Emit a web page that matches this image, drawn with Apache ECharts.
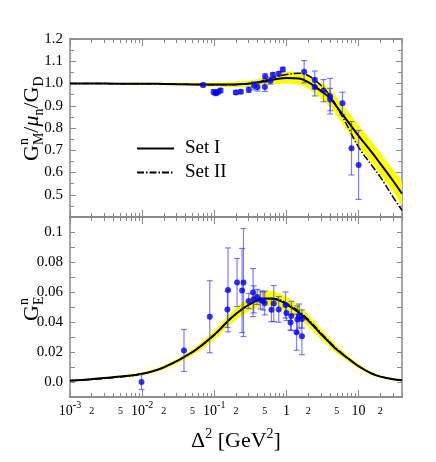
<!DOCTYPE html>
<html>
<head>
<meta charset="utf-8">
<script src="https://cdn.jsdelivr.net/npm/echarts@6/dist/echarts.min.js"></script>
<style>
html, body { margin: 0; padding: 0; background: #fff; }
#chart { width: 436px; height: 462px; }
</style>
</head>
<body>
<div id="chart"></div>
<script>
// curve sample points (Delta^2 in GeV^2)
const qCurve = [0.001, 0.002, 0.005, 0.01, 0.02, 0.05, 0.1, 0.15, 0.2, 0.3, 0.4, 0.5, 0.7, 1, 1.5, 2, 3, 4, 5, 7, 10, 15, 20, 30, 40]

// G_M^n / mu_n / G_D
const gmSet1 = [1.000, 1.000, 0.999, 0.999, 0.998, 0.996, 0.995, 0.995, 0.996, 0.999, 1.004, 1.010, 1.019, 1.025, 1.022, 1.006, 0.967, 0.935, 0.895, 0.832, 0.765, 0.694, 0.640, 0.563, 0.505]
const gmSet2 = [1.000, 1.000, 0.999, 0.999, 0.998, 0.996, 0.994, 0.994, 0.996, 1.000, 1.007, 1.015, 1.029, 1.040, 1.046, 1.036, 0.992, 0.945, 0.895, 0.810, 0.714, 0.635, 0.580, 0.490, 0.430]
const gmLow  = [0.998, 0.998, 0.996, 0.995, 0.993, 0.989, 0.986, 0.984, 0.984, 0.985, 0.988, 0.992, 0.997, 0.999, 0.994, 0.976, 0.932, 0.895, 0.853, 0.787, 0.718, 0.646, 0.591, 0.513, 0.455]
const gmHigh = [1.002, 1.002, 1.002, 1.003, 1.003, 1.003, 1.004, 1.006, 1.008, 1.013, 1.020, 1.028, 1.041, 1.051, 1.050, 1.036, 1.002, 0.975, 0.937, 0.877, 0.812, 0.742, 0.689, 0.613, 0.555]

// G_E^n
const geSet1 = [0.0010, 0.0019, 0.0036, 0.0055, 0.0098, 0.0200, 0.0315, 0.0400, 0.0455, 0.0515, 0.0545, 0.0556, 0.0552, 0.0518, 0.0462, 0.0410, 0.0320, 0.0260, 0.0215, 0.0160, 0.0105, 0.0058, 0.0036, 0.0019, 0.0011]
const geSet2 = [0.0008, 0.0017, 0.0034, 0.0054, 0.0098, 0.0200, 0.0314, 0.0398, 0.0453, 0.0514, 0.0545, 0.0557, 0.0555, 0.0525, 0.0470, 0.0418, 0.0328, 0.0266, 0.0220, 0.0163, 0.0106, 0.0058, 0.0036, 0.0019, 0.0011]
const geLow  = [0.0006, 0.0014, 0.0029, 0.0045, 0.0085, 0.0180, 0.0285, 0.0365, 0.0415, 0.0470, 0.0495, 0.0506, 0.0502, 0.0468, 0.0417, 0.0370, 0.0285, 0.0230, 0.0188, 0.0140, 0.0090, 0.0048, 0.0028, 0.0014, 0.0007]
const geHigh = [0.0014, 0.0024, 0.0043, 0.0065, 0.0111, 0.0220, 0.0345, 0.0435, 0.0495, 0.0560, 0.0595, 0.0606, 0.0602, 0.0568, 0.0507, 0.0450, 0.0355, 0.0290, 0.0242, 0.0180, 0.0120, 0.0068, 0.0044, 0.0024, 0.0015]

// measured points, magnetic
const gmQ   = [0.070, 0.098, 0.105, 0.112, 0.122, 0.199, 0.233, 0.301, 0.357, 0.398, 0.503, 0.507, 0.602, 0.649, 0.785, 0.891, 1.76, 2.47, 2.47, 3.27, 4.03, 4.03, 5.98, 7.98, 10.0]
const gmVal = [0.993, 0.962, 0.956, 0.962, 0.968, 0.960, 0.963, 0.972, 0.990, 0.984, 0.984, 1.032, 1.012, 1.039, 1.044, 1.063, 1.053, 1.016, 0.984, 0.968, 0.943, 0.928, 0.911, 0.709, 0.634]
const gmErr = [0.008, 0.010, 0.010, 0.010, 0.010, 0.009, 0.008, 0.012, 0.018, 0.018, 0.020, 0.012, 0.015, 0.010, 0.010, 0.010, 0.050, 0.040, 0.040, 0.050, 0.080, 0.050, 0.050, 0.120, 0.155]

// measured points, electric
const geQ   = [0.0098, 0.038, 0.0866, 0.152, 0.155, 0.207, 0.243, 0.254, 0.300, 0.345, 0.352, 0.392, 0.436, 0.474, 0.500, 0.620, 0.667, 0.782, 0.970, 1.00, 1.14, 1.17, 1.38, 1.42, 1.50, 1.64, 1.64]
const geVal = [0.0000, 0.0210, 0.0435, 0.0484, 0.0614, 0.0663, 0.0610, 0.0663, 0.0540, 0.0596, 0.0551, 0.0567, 0.0547, 0.0540, 0.0527, 0.0482, 0.0523, 0.0484, 0.0513, 0.0460, 0.0397, 0.0440, 0.0332, 0.0417, 0.0440, 0.0305, 0.0420]
const geErr = [0.005, 0.014, 0.024, 0.012, 0.028, 0.016, 0.028, 0.036, 0.005, 0.016, 0.009, 0.005, 0.006, 0.006, 0.008, 0.008, 0.012, 0.0085, 0.0087, 0.005, 0.005, 0.0097, 0.012, 0.009, 0.008, 0.0123, 0.006]

// x axis ticks / labels
const xMajorTicks = [0.001, 0.01, 0.1, 1, 10]
const xMinorTicks = [0.002, 0.003, 0.004, 0.005, 0.006, 0.007, 0.008, 0.009,
  0.02, 0.03, 0.04, 0.05, 0.06, 0.07, 0.08, 0.09,
  0.2, 0.3, 0.4, 0.5, 0.6, 0.7, 0.8, 0.9,
  2, 3, 4, 5, 6, 7, 8, 9, 20, 30, 40]
const xLabels = [0.001, 0.002, 0.005, 0.01, 0.02, 0.05, 0.1, 0.2, 0.5, 1, 2, 5, 10, 20]

const FONT = 'Liberation Serif'
const AXIS_COLOR = '#8a8a8a'
const ERR_COLOR = 'rgba(40, 40, 255, 0.6)'
const lg = v => Math.log10(v)
const X_MIN = -3
const X_MAX = lg(40)

const xLabelFormatter = v => {
  const e = Math.round(v)
  if (Math.abs(v - e) < 1e-6) {
    if (e === 0) return '{m|1}'
    if (e === 1) return '{m|10}'
    return '{m|10}{s|' + e + '}'
  }
  const m = Math.round(Math.pow(10, v - Math.floor(v + 1e-9)))
  return '{d|' + m + '}'
}

function xAxisOf(grid, pos, ticks, len, withLabels) {
  return {
    type: 'value',
    gridIndex: grid,
    position: pos,
    min: X_MIN,
    max: X_MAX,
    axisLine: { show: true, onZero: false, lineStyle: { color: AXIS_COLOR, width: 1.5 } },
    axisTick: { show: true, inside: true, length: len, customValues: ticks.map(lg), lineStyle: { color: AXIS_COLOR, width: 1 } },
    axisLabel: withLabels ? {
      show: true,
      customValues: xLabels.map(lg),
      margin: 3,
      formatter: xLabelFormatter,
      rich: {
        m: { fontFamily: FONT, fontSize: 14, color: '#000', lineHeight: 22 },
        s: { fontFamily: FONT, fontSize: 10, color: '#000', lineHeight: 10, verticalAlign: 'top' },
        d: { fontFamily: FONT, fontSize: 10, color: '#000', lineHeight: 22 }
      }
    } : { show: false },
    splitLine: { show: false }
  }
}

function yAxisOf(grid, pos, min, max, interval, tickLen, minor, formatter) {
  return {
    type: 'value',
    gridIndex: grid,
    position: pos,
    min: min,
    max: max,
    interval: interval,
    axisLine: { show: true, onZero: false, lineStyle: { color: AXIS_COLOR, width: 1.5 } },
    axisTick: { show: true, inside: true, length: tickLen, lineStyle: { color: AXIS_COLOR, width: 1 } },
    minorTick: { show: minor, splitNumber: 2, length: 4, lineStyle: { color: AXIS_COLOR, width: 1 } },
    axisLabel: formatter ? {
      show: true, margin: 7, formatter: formatter,
      fontFamily: FONT, fontSize: 15, color: '#000'
    } : { show: false },
    splitLine: { show: false },
    minorSplitLine: { show: false }
  }
}

const gmFormatter = v => (v < 0.45 ? '' : v.toFixed(1))
const geFormatter = v => {
  const n = Math.round(v * 100)
  if (n < 0 || n % 2 !== 0) return ''
  if (n === 0) return '0.0'
  if (n === 10) return '0.1'
  return (n / 100).toFixed(2)
}

const pairs = (xs, ys) => xs.map((x, i) => [lg(x), ys[i]])

// yellow uncertainty band, drawn as one polygon through the axis scales
function bandSeries(xi, yi, low, high) {
  return {
    type: 'custom', xAxisIndex: xi, yAxisIndex: yi, silent: true, z: 1, clip: true,
    data: qCurve.map((q, i) => [lg(q), low[i], high[i]]),
    encode: { x: 0, y: [1, 2] },
    renderItem: (params, api) => {
      if (params.dataIndex !== 0) return null
      const lower = qCurve.map((q, i) => api.coord([lg(q), low[i]]))
      const upper = qCurve.map((q, i) => api.coord([lg(q), high[i]])).reverse()
      return {
        type: 'polygon',
        shape: { points: lower.concat(upper), smooth: 0.4 },
        style: { fill: '#ffff00', stroke: null }
      }
    }
  }
}

function curveSeries(xi, yi, name, ys, dashed) {
  return {
    name: name, type: 'line', xAxisIndex: xi, yAxisIndex: yi,
    data: pairs(qCurve, ys), symbol: 'none', smooth: 0.4, silent: true,
    itemStyle: { color: '#000' },
    lineStyle: dashed
      ? { color: '#000', width: 1.5, type: [7, 2, 1.5, 2] }
      : { color: '#000', width: 2 },
    z: 2
  }
}

function errorBarSeries(xi, yi, q, v, e) {
  return {
    type: 'custom', xAxisIndex: xi, yAxisIndex: yi, silent: true, z: 3,
    data: q.map((x, i) => [lg(x), v[i], e[i]]),
    encode: { x: 0, y: 1 },
    renderItem: (params, api) => {
      const x = api.value(0), y = api.value(1), err = api.value(2)
      const hi = api.coord([x, y + err])
      const lo = api.coord([x, y - err])
      const st = { stroke: ERR_COLOR, lineWidth: 1.2 }
      return {
        type: 'group',
        children: [
          { type: 'line', shape: { x1: hi[0], y1: hi[1], x2: lo[0], y2: lo[1] }, style: st },
          { type: 'line', shape: { x1: hi[0] - 3, y1: hi[1], x2: hi[0] + 3, y2: hi[1] }, style: st },
          { type: 'line', shape: { x1: lo[0] - 3, y1: lo[1], x2: lo[0] + 3, y2: lo[1] }, style: st }
        ]
      }
    }
  }
}

function pointSeries(xi, yi, q, v) {
  return {
    type: 'scatter', xAxisIndex: xi, yAxisIndex: yi, silent: true, z: 4,
    data: pairs(q, v), symbol: 'circle', symbolSize: 6,
    itemStyle: { color: '#0000f0' }
  }
}

const titleRich = {
  a: { fontFamily: FONT, fontSize: 22, color: '#000', lineHeight: 28 },
  i: { fontFamily: FONT, fontSize: 22, fontStyle: 'italic', color: '#000', lineHeight: 28 },
  b: { fontFamily: FONT, fontSize: 14, color: '#000', lineHeight: 16, verticalAlign: 'bottom' },
  s: { fontFamily: FONT, fontSize: 14, color: '#000', lineHeight: 14, verticalAlign: 'top' }
}

function rotatedTitle(x, y, rich) {
  return {
    type: 'group', x: x, y: y, rotation: Math.PI / 2,
    children: [
      { type: 'text', x: 0, y: 0, style: { text: rich, rich: titleRich, align: 'left', verticalAlign: 'middle', textAlign: 'left', textVerticalAlign: 'middle' } },
      { type: 'text', x: 16, y: -8, style: { text: 'n', fontFamily: FONT, fontSize: 14, fill: '#000', align: 'left', verticalAlign: 'middle', textAlign: 'left', textVerticalAlign: 'middle' } }
    ]
  }
}

const chart = echarts.init(document.getElementById('chart'), null, { renderer: 'canvas' })

chart.setOption({
  animation: false,
  backgroundColor: '#fff',
  grid: [
    { left: 70, top: 39, width: 332, height: 178 },
    { left: 70, top: 217, width: 332, height: 180 }
  ],
  xAxis: [
    xAxisOf(0, 'bottom', xMajorTicks, 7, false),
    xAxisOf(0, 'bottom', xMinorTicks, 4, false),
    xAxisOf(0, 'top', xMajorTicks, 7, false),
    xAxisOf(0, 'top', xMinorTicks, 4, false),
    xAxisOf(1, 'bottom', xMajorTicks, 7, true),
    xAxisOf(1, 'bottom', xMinorTicks, 4, false),
    xAxisOf(1, 'top', xMajorTicks, 7, false),
    xAxisOf(1, 'top', xMinorTicks, 4, false)
  ],
  yAxis: [
    yAxisOf(0, 'left', 0.4, 1.2, 0.1, 6, true, gmFormatter),
    yAxisOf(0, 'right', 0.4, 1.2, 0.1, 6, true, null),
    yAxisOf(1, 'left', -0.01, 0.11, 0.01, 5, false, geFormatter),
    yAxisOf(1, 'right', -0.01, 0.11, 0.01, 5, false, null)
  ],
  legend: {
    data: ['Set I', 'Set II'],
    orient: 'vertical',
    left: 136,
    top: 139,
    padding: 0,
    itemWidth: 37,
    itemHeight: 14,
    itemGap: 5,
    selectedMode: false,
    itemStyle: { color: 'rgba(0,0,0,0)', borderWidth: 0, opacity: 0 },
    textStyle: { fontFamily: FONT, fontSize: 19, color: '#000', lineHeight: 19, padding: [0, 0, 0, 6] }
  },
  graphic: [
    rotatedTitle(32, 161, '{a|G}{b|M}{a|/}{i|μ}{b|n}{a|/G}{b|D}'),
    rotatedTitle(32, 321, '{a|G}{b|E}'),
    {
      type: 'text', x: 236, y: 441,
      style: { text: '{a|Δ}{s|2}{a| [GeV}{s|2}{a|]}', rich: titleRich, align: 'center', verticalAlign: 'middle', textAlign: 'center', textVerticalAlign: 'middle' }
    }
  ],
  series: [
    bandSeries(0, 0, gmLow, gmHigh),
    curveSeries(0, 0, 'Set I', gmSet1, false),
    curveSeries(0, 0, 'Set II', gmSet2, true),
    errorBarSeries(0, 0, gmQ, gmVal, gmErr),
    pointSeries(0, 0, gmQ, gmVal),
    bandSeries(4, 2, geLow, geHigh),
    curveSeries(4, 2, 'Set I', geSet1, false),
    curveSeries(4, 2, 'Set II', geSet2, true),
    errorBarSeries(4, 2, geQ, geVal, geErr),
    pointSeries(4, 2, geQ, geVal)
  ]
})
</script>
</body>
</html>
